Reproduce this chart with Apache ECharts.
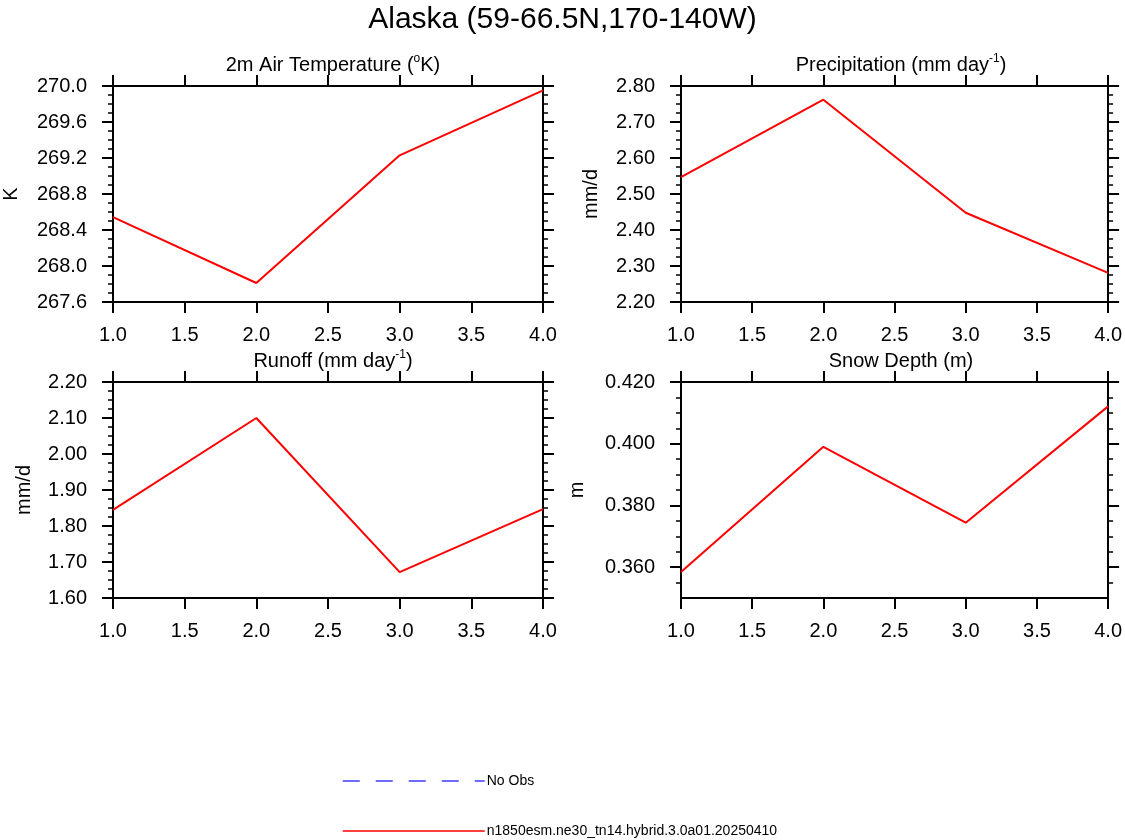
<!DOCTYPE html>
<html>
<head>
<meta charset="utf-8">
<script src="https://cdn.jsdelivr.net/npm/echarts@6/dist/echarts.min.js"></script>
<style>
  html, body { margin: 0; padding: 0; background: #fff; }
  #main { width: 1125px; height: 840px; }
</style>
</head>
<body>
<div id="main"></div>
<script>
// x positions (years)
const years = [1, 2, 3, 4];
// series values
const airTemp = [268.544, 267.811, 269.23, 269.952];
const precip = [2.547, 2.762, 2.448, 2.281];
const runoff = [1.845, 2.10, 1.672, 1.847];
const snowDepth = [0.3584, 0.399, 0.3744, 0.4121];
// tick values for the snow depth panel
const snowTicks = [0.36, 0.38, 0.40, 0.42];
const snowMinorTicks = [0.355, 0.365, 0.37, 0.375, 0.385, 0.39, 0.395, 0.405, 0.41, 0.415];

const modelName = 'n1850esm.ne30_tn14.hybrid.3.0a01.20250410';
const FONT = '"Liberation Sans", Helvetica, Arial, sans-serif';

const chart = echarts.init(document.getElementById('main'));

const black = { color: '#000', width: 2 };
const panels = [
  { left: 113, top: 86, data: airTemp, min: 267.6, max: 270.0, interval: 0.4, dec: 1,
    title: ['2m Air Temperature (', '{sup|o}', 'K)'], yName: 'K', nameGap: 92 },
  { left: 681, top: 86, data: precip, min: 2.2, max: 2.8, interval: 0.1, dec: 2,
    title: ['Precipitation (mm day', '{sup|-1}', ')'], yName: 'mm/d', nameGap: 80 },
  { left: 113, top: 382, data: runoff, min: 1.6, max: 2.2, interval: 0.1, dec: 2,
    title: ['Runoff (mm day', '{sup|-1}', ')'], yName: 'mm/d', nameGap: 79 },
  { left: 681, top: 382, data: snowDepth, min: 0.35, max: 0.42, dec: 3,
    title: ['Snow Depth (m)', '', ''], yName: 'm', nameGap: 94, custom: true }
];

const grids = [], xAxes = [], yAxes = [], series = [];
const titles = [{
  text: 'Alaska (59-66.5N,170-140W)', left: 'center', top: 0,
  textStyle: { fontFamily: FONT, fontSize: 30, fontWeight: 'normal', color: '#000' }
}];

panels.forEach(function (p, k) {
  grids.push({ left: p.left, top: p.top, width: 430, height: 216, containLabel: false });
  titles.push({
    text: p.title.join(''), left: p.left + 215, top: p.top - 38, textAlign: 'center',
    textStyle: {
      fontFamily: FONT, fontSize: 20, fontWeight: 'normal', color: '#000', lineHeight: 24,
      rich: { sup: { fontFamily: FONT, fontSize: 12, verticalAlign: 'top', lineHeight: 14, color: '#000' } }
    }
  });
  const xBase = {
    type: 'value', gridIndex: k, min: 1, max: 4, interval: 0.5,
    axisLine: { show: true, onZero: false, lineStyle: black },
    axisTick: { show: true, length: 11, lineStyle: black },
    splitLine: { show: false }
  };
  xAxes.push(Object.assign({}, xBase, {
    position: 'bottom',
    axisLabel: { show: true, margin: 23, fontFamily: FONT, fontSize: 20, color: '#000',
      formatter: function (v) { return v.toFixed(1); } }
  }));
  xAxes.push(Object.assign({}, xBase, { position: 'top', axisLabel: { show: false } }));

  const yBase = {
    type: 'value', gridIndex: k, min: p.min, max: p.max,
    axisLine: { show: true, onZero: false, lineStyle: black },
    splitLine: { show: false }
  };
  if (!p.custom) {
    yBase.interval = p.interval;
    yBase.axisTick = { show: true, length: 11, lineStyle: black };
    yBase.minorTick = { show: true, splitNumber: 4, length: 5, lineStyle: { color: '#000', width: 1.5 } };
  } else {
    yBase.axisTick = { show: true, length: 11, lineStyle: black, customValues: snowTicks };
  }
  const yLeft = Object.assign({}, yBase, {
    position: 'left', name: p.yName, nameLocation: 'middle', nameGap: p.nameGap,
    nameTextStyle: { fontFamily: FONT, fontSize: 20, color: '#000' },
    axisLabel: { show: true, margin: 26, fontFamily: FONT, fontSize: 20, color: '#000',
      formatter: function (v) { return v.toFixed(p.dec); } }
  });
  if (p.custom) yLeft.axisLabel.customValues = snowTicks;
  yAxes.push(yLeft);
  yAxes.push(Object.assign({}, yBase, { position: 'right', axisLabel: { show: false } }));

  series.push({
    name: modelName, type: 'line', xAxisIndex: 2 * k, yAxisIndex: yAxes.length - 2,
    data: years.map(function (x, i) { return [x, p.data[i]]; }),
    symbol: 'none', lineStyle: { color: '#ff0000', width: 2 }, itemStyle: { color: '#ff0000' },
    silent: true
  });

  if (p.custom) {
    // minor ticks on both sides of the snow depth panel
    ['left', 'right'].forEach(function (pos) {
      yAxes.push({
        type: 'value', gridIndex: k, min: p.min, max: p.max, position: pos,
        axisLine: { show: false }, splitLine: { show: false }, axisLabel: { show: false },
        axisTick: { show: true, length: 5, lineStyle: { color: '#000', width: 1.5 }, customValues: snowMinorTicks }
      });
    });
  }
});

// "No Obs" entry exists only for the legend
series.push({
  name: 'No Obs', type: 'line', xAxisIndex: 0, yAxisIndex: 0, data: [],
  symbol: 'none', lineStyle: { color: '#3c3cff', width: 1.5, type: [17, 16] }, itemStyle: { color: '#3c3cff' }
});

const legendBase = {
  left: 337, itemWidth: 142, itemHeight: 14, selectedMode: false,
  lineStyle: { width: 1.5 }, itemStyle: { opacity: 0 },
  textStyle: { fontFamily: FONT, fontSize: 14, color: '#000', padding: [0, 0, 0, -3] }
};

chart.setOption({
  animation: false,
  backgroundColor: '#fff',
  title: titles,
  legend: [
    Object.assign({}, legendBase, { data: ['No Obs'], top: 769 }),
    Object.assign({}, legendBase, { data: [modelName], top: 819 })
  ],
  grid: grids,
  xAxis: xAxes,
  yAxis: yAxes,
  series: series
});
</script>
</body>
</html>
